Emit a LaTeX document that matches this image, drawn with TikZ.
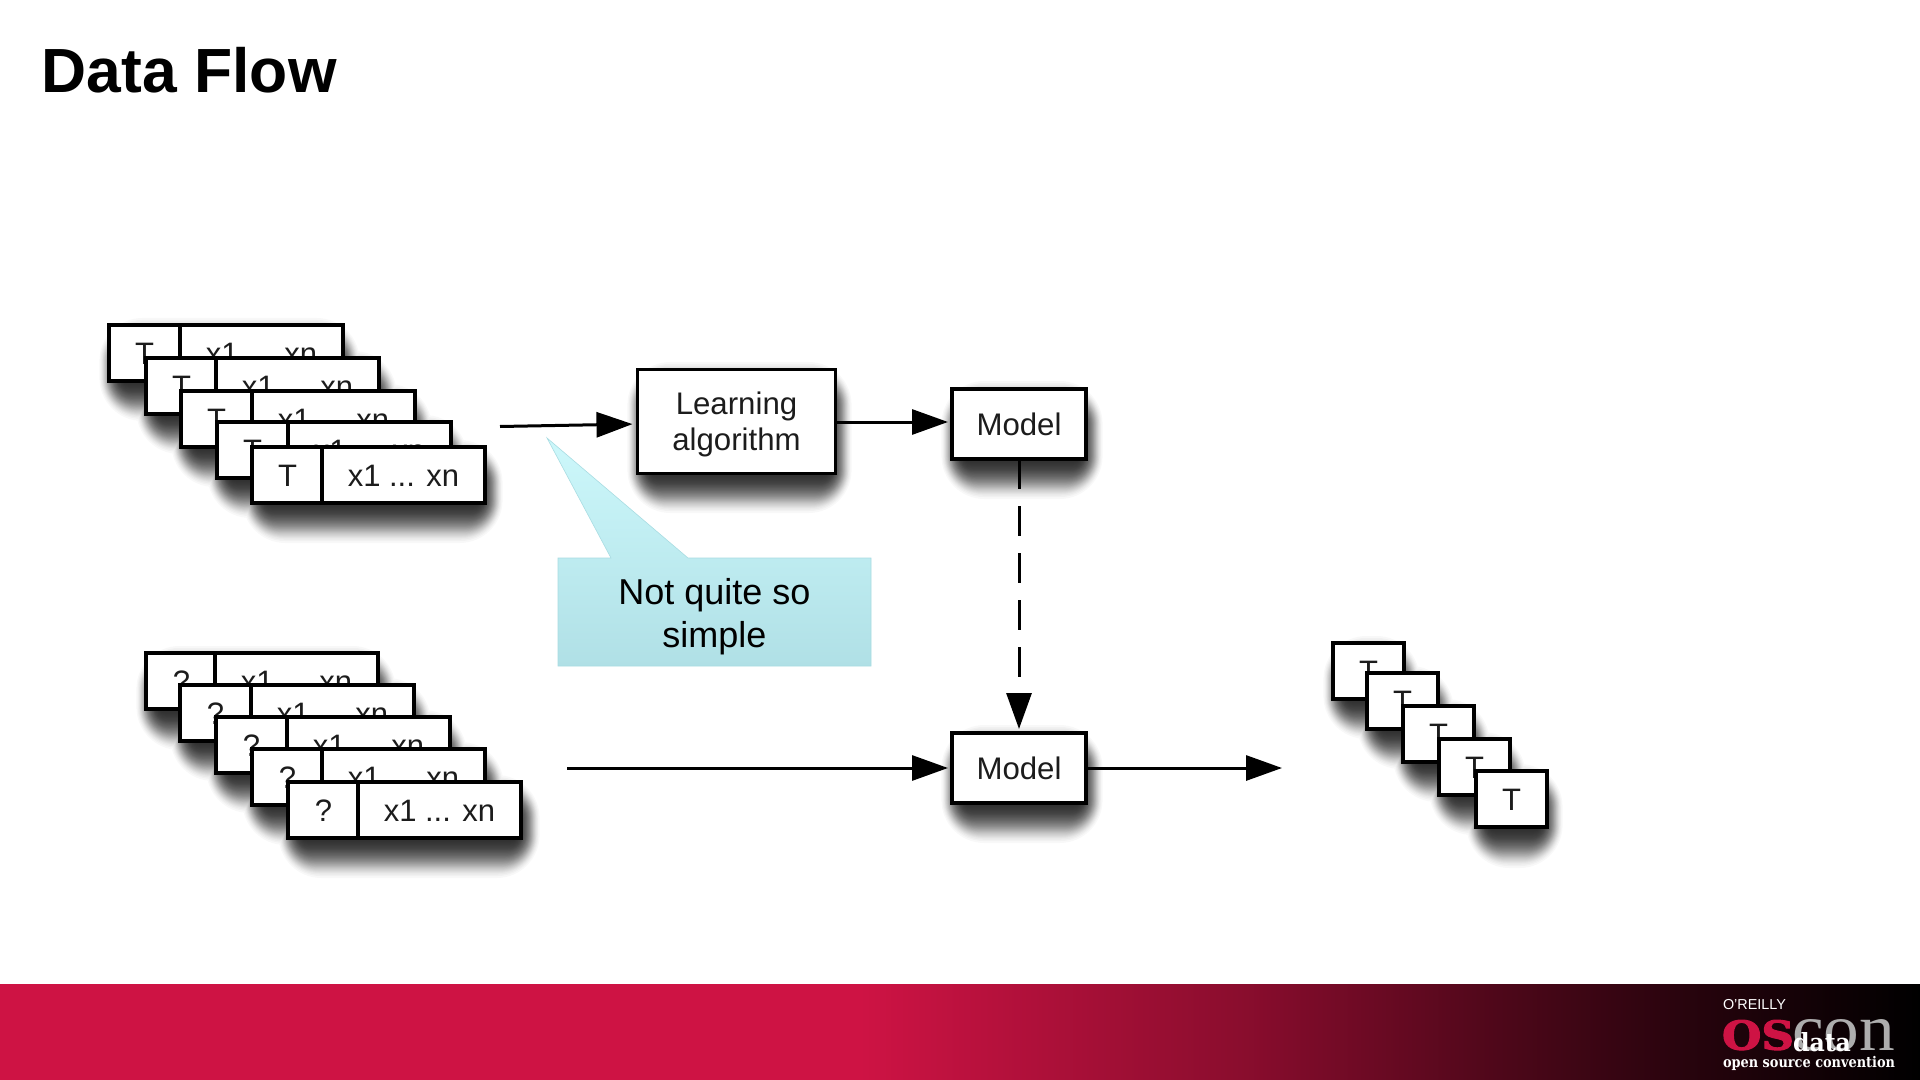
\documentclass[tikz,border=0pt]{standalone}
\usepackage{fontspec}
\usepackage{graphicx}
\setmainfont{Liberation Sans}
\newfontfamily\logoserif{DejaVu Serif}
\newfontfamily\logofat[FakeBold=2.5]{DejaVu Serif Bold}
\newfontfamily\logothin{Liberation Serif}
\usetikzlibrary{arrows.meta}
\definecolor{crim}{HTML}{CE1344}
\definecolor{ink}{HTML}{1C1C1C}
\definecolor{calltop}{HTML}{CDF8FB}
\definecolor{callbot}{HTML}{B0E0E6}
\definecolor{calledge}{HTML}{A8DCE2}
\pgfdeclarehorizontalshading{footshade}{100bp}{color(0bp)=(crim); color(25bp)=(crim); color(47.4bp)=(crim); color(57.6bp)=(crim!66!black); color(64bp)=(crim!38!black); color(69.3bp)=(crim!18!black); color(75bp)=(black); color(100bp)=(black)}
\newcommand{\srect}[4]{(#1-\ee*.6+3,#2-\ee+14) rectangle (#3+\ee*.6+4,#4+\ee+19)}
\newcommand{\softshadow}[1]{%
  \foreach \ee in {21,19,17.5,16,15,14,13,12.2,11.4,10.6,9.9,9.2,8.5,7.8,7.2,6.6,6,5.4,4.8,4.2,3.6,3,2.4,1.8,1.2,.6,0,-.6,-1.2,-1.8,-2.4,-3,-3.6,-4.2,-4.8,-5.4,-6,-6.6,-7.2,-7.8,-8.5,-9.2,-9.9,-10.6,-11.4,-12.2,-13,-14,-15,-16,-17.5,-19,-21}{%
    \pgfmathsetmacro{\rr}{max(1,\ee+22)}%
    \fill[black,fill opacity=.027,rounded corners=\rr*.5pt] #1;
  }}
\newcommand{\dropped}[2]{\raisebox{-#1}[\height][\depth]{#2}}
\tikzset{
  x=0.5pt,y=-0.5pt,
  cellbase/.style={draw=black,fill=white,line width=1.55pt,anchor=north west,inner sep=0pt,outer sep=0pt,text=ink,font=\fontsize{15.5pt}{17pt}\selectfont,minimum height=28pt},
  tcell/.style={cellbase,minimum width=35.5pt},
  vcell/.style={cellbase,minimum width=81.5pt},
  procbox/.style={draw=black,fill=white,line width=1.7pt,inner sep=0pt,outer sep=0pt,text=ink,font=\fontsize{15.6pt}{17.8pt}\selectfont,align=center,anchor=north west},
  flow/.style={draw=black,line width=1.5pt,-{Triangle[length=18pt,width=12.5pt]}},
  logotext/.style={inner sep=0pt,outer sep=0pt,anchor=north west,text=white},
}
\begin{document}
\begin{tikzpicture}
\useasboundingbox (0,0) rectangle (1920,1080);
\fill[white] (0,0) rectangle (1920,1080);
% title
\node[anchor=base west,inner sep=0pt,font=\fontsize{31.2pt}{36pt}\selectfont\bfseries] (title) at (41.5,93) {Data Flow};
% footer
\shade[shading=footshade] (0,984) rectangle (1920,1080);
% shadows
\softshadow{\srect{109}{325}{343}{381} \srect{146}{358}{380}{414} \srect{181}{391}{415}{447} \srect{217}{422}{451}{478} \srect{252}{447}{486}{503}}
\softshadow{\srect{146}{653}{379}{710} \srect{180}{685}{414}{741} \srect{216}{717}{450}{773} \srect{252}{749}{487}{805} \srect{288}{782}{523}{838}}
\softshadow{\srect{1333}{643}{1403}{699} \srect{1367}{673}{1437}{729} \srect{1403}{706}{1473}{762} \srect{1439}{739}{1509}{795} \srect{1476}{771}{1546}{828}}
\softshadow{\srect{637}{369}{835}{473}}
\softshadow{\srect{951}{388}{1086}{459}}
\softshadow{\srect{951}{732}{1086}{803}}
% top stack
\node[tcell] (at1) at (109,325) {\dropped{.5pt}{T}}; \node[vcell] (av1) at (180,325) {\dropped{.5pt}{x1 ... xn}};
\node[tcell] (at2) at (146,358) {\dropped{.5pt}{T}}; \node[vcell] (av2) at (216,358) {\dropped{.5pt}{x1 ... xn}};
\node[tcell] (at3) at (181,391) {\dropped{.5pt}{T}}; \node[vcell] (av3) at (252,391) {\dropped{.5pt}{x1 ... xn}};
\node[tcell] (at4) at (217,422) {\dropped{.5pt}{T}}; \node[vcell] (av4) at (288,422) {\dropped{.5pt}{x1 ... xn}};
\node[tcell] (at5) at (252,447) {\dropped{.5pt}{T}}; \node[vcell] (av5) at (322,447) {\dropped{.5pt}{x1 ... xn}};
% lower stack
\node[tcell] (bt1) at (146,653) {\dropped{.5pt}{?}}; \node[vcell] (bv1) at (215,653) {\dropped{.5pt}{x1 ... xn}};
\node[tcell] (bt2) at (180,685) {\dropped{.5pt}{?}}; \node[vcell] (bv2) at (251,685) {\dropped{.5pt}{x1 ... xn}};
\node[tcell] (bt3) at (216,717) {\dropped{.5pt}{?}}; \node[vcell] (bv3) at (287,717) {\dropped{.5pt}{x1 ... xn}};
\node[tcell] (bt4) at (252,749) {\dropped{.5pt}{?}}; \node[vcell] (bv4) at (322,749) {\dropped{.5pt}{x1 ... xn}};
\node[tcell] (bt5) at (288,782) {\dropped{.5pt}{?}}; \node[vcell] (bv5) at (358,782) {\dropped{.5pt}{x1 ... xn}};
% result stack
\node[tcell] (rt1) at (1333,643) {\dropped{.5pt}{T}};
\node[tcell] (rt2) at (1367,673) {\dropped{.5pt}{T}};
\node[tcell] (rt3) at (1403,706) {\dropped{.5pt}{T}};
\node[tcell] (rt4) at (1439,739) {\dropped{.5pt}{T}};
\node[tcell] (rt5) at (1476,771) {\dropped{.5pt}{T}};
% process boxes
\node[procbox,minimum width=99pt,minimum height=52pt] (learn) at (637.5,369.5) {\dropped{1.6pt}{Learning}\\\dropped{1.6pt}{algorithm}};
\node[procbox,minimum width=67pt,minimum height=35pt] (model1) at (952,389) {Model};
\node[procbox,minimum width=67pt,minimum height=35pt] (model2) at (952,733) {Model};
% free ends and levels
\coordinate (in1) at (500,426.5);
\coordinate (lvla) at (0,424);
\coordinate (lvlb) at (0,422);
\coordinate (in2) at (567,768);
\coordinate (out2) at (1282,768);
% connectors
\draw[flow,shorten >=2.5pt] (in1) -- (learn.west |- lvla);
\draw[flow,shorten >=2pt] (learn.east |- lvlb) -- (model1.west |- lvlb);
\draw[flow,shorten >=2pt] (in2) -- (model2.west |- in2);
\draw[flow] (model2.east |- in2) -- (out2);
\draw[flow,dash pattern=on 15pt off 8.5pt,shorten >=2pt] (model1.south) -- (model2.north);
% callout
\shade[top color=calltop,bottom color=callbot,draw=calledge,line width=.3pt] (547,438) -- (611,558) -- (558,558) -- (558,666) -- (871,666) -- (871,558) -- (688,558) -- cycle;
\node[align=center,inner sep=0pt,text=black,font=\fontsize{18pt}{21.5pt}\selectfont] (note) at (714.5,617) {Not quite so\\simple};
% logo
\node[logotext,font=\fontsize{7.2pt}{8pt}\selectfont] (orly) at (1723,999) {O'REILLY};
\node[logotext,text=black!32] (con) at (1792,1019) {\resizebox{51.5pt}{15.5pt}{\logothin con}};
\node[logotext,text=crim] (os) at (1722,1020) {\resizebox{36pt}{14.8pt}{\logofat OS}};
\node[logotext] (data) at (1793,1032) {\resizebox{29pt}{9.5pt}{\logoserif\bfseries data}};
\node[logotext] (conv) at (1723,1056) {\resizebox{86pt}{5.6pt}{\logoserif\bfseries open source convention}};
\end{tikzpicture}
\end{document}
